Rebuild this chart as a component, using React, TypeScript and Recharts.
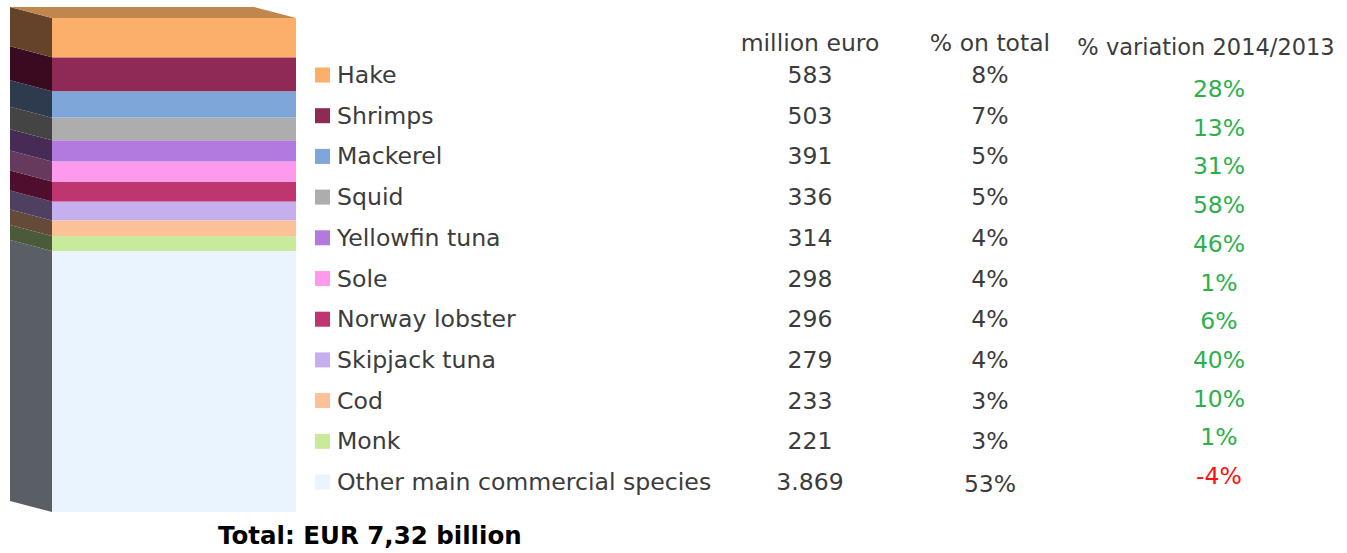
import { BarChart, Bar, XAxis, YAxis, Legend } from "recharts";

// top to bottom as in the picture
const species = [
  "Hake",
  "Shrimps",
  "Mackerel",
  "Squid",
  "Yellowfin tuna",
  "Sole",
  "Norway lobster",
  "Skipjack tuna",
  "Cod",
  "Monk",
  "Other main commercial species",
];
const millionEuro = [583, 503, 391, 336, 314, 298, 296, 279, 233, 221, 3869];
const valueLabels = ["583", "503", "391", "336", "314", "298", "296", "279", "233", "221", "3.869"];
const shareLabels = ["8%", "7%", "5%", "5%", "4%", "4%", "4%", "4%", "3%", "3%", "53%"];
const variation = [28, 13, 31, 58, 46, 1, 6, 40, 10, 1, -4];

const frontColors = [
  "#fcaf6a", "#8e2a55", "#7fa6d8", "#adadad", "#b27ade", "#ff99ee",
  "#be356f", "#c5afee", "#fdc197", "#c8ea9b", "#eaf4fe",
];
const sideColors = [
  "#65432a", "#3a0a20", "#2e3b4f", "#444444", "#472a55", "#653a5c",
  "#4f0e2d", "#4d4060", "#654a3a", "#4b5a38", "#5a5f66",
];
const topColor = "#c0864e";

const W = 1347;
const H = 553;
const DX = 42;
const DY = 11;
const TEXT = "#3c3c3c";
const FONT = "'DejaVu Sans', Verdana, sans-serif";

const row: Record<string, string | number> = { name: "2014" };
species.forEach((s, i) => {
  row[s] = millionEuro[i];
});
const data = [row];

function Block(props: any) {
  const { x, y, width, height, fill, side, top } = props;
  return (
    <g>
      <polygon
        points={`${x - DX},${y - DY} ${x},${y} ${x},${y + height} ${x - DX},${y + height - DY}`}
        fill={side}
      />
      {top && (
        <polygon
          points={`${x - DX},${y - DY} ${x + width - DX},${y - DY} ${x + width},${y} ${x},${y}`}
          fill={top}
        />
      )}
      <rect x={x} y={y} width={width} height={height} fill={fill} />
    </g>
  );
}

function Table() {
  const rowY = (i: number) => 75 + i * 40.7;
  const varY = (i: number) => 89 + i * 38.7;
  return (
    <svg width={W} height={H} style={{ fontFamily: FONT }}>
      <text x={810} y={43} fontSize={23.5} fill={TEXT} textAnchor="middle" dominantBaseline="central">
        million euro
      </text>
      <text x={990} y={43} fontSize={23.5} fill={TEXT} textAnchor="middle" dominantBaseline="central">
        % on total
      </text>
      <text x={1206} y={47} fontSize={22.5} fill={TEXT} textAnchor="middle" dominantBaseline="central">
        % variation 2014/2013
      </text>
      {species.map((s, i) => (
        <g key={s}>
          <rect x={315} y={rowY(i) - 7.5} width={15} height={15} fill={frontColors[i]} />
          <text x={337} y={rowY(i)} fontSize={23.6} fill={TEXT} dominantBaseline="central">
            {s}
          </text>
          <text x={810} y={rowY(i)} fontSize={23.5} fill={TEXT} textAnchor="middle" dominantBaseline="central">
            {valueLabels[i]}
          </text>
          <text x={990} y={rowY(i) + (i === 10 ? 2 : 0)} fontSize={23.5} fill={TEXT} textAnchor="middle" dominantBaseline="central">
            {shareLabels[i]}
          </text>
          <text
            x={1219}
            y={varY(i)}
            fontSize={23.5}
            fill={variation[i] < 0 ? "#ff1010" : "#2db04c"}
            textAnchor="middle"
            dominantBaseline="central"
          >
            {`${variation[i]}%`}
          </text>
        </g>
      ))}
      <text x={218} y={535} fontSize={24.5} fontWeight="bold" fill="#000" dominantBaseline="central">
        Total: EUR 7,32 billion
      </text>
    </svg>
  );
}

export default function App() {
  // recharts stacks the first series at the bottom
  const order = species.map((_, i) => i).reverse();
  return (
    <div style={{ position: "absolute", left: 0, top: 0 }}>
      <BarChart
        width={W}
        height={H}
        data={data}
        margin={{ top: 18, right: W - 296, bottom: H - 512, left: 52 }}
        barCategoryGap={0}
      >
        <XAxis dataKey="name" hide />
        <YAxis hide domain={[0, "dataMax"]} />
        <Legend
          layout="horizontal"
          verticalAlign="middle"
          align="center"
          wrapperStyle={{ left: 0, top: 0, width: W, height: H, pointerEvents: "none" }}
          content={() => <Table />}
        />
        {order.map((i) => (
          <Bar
            key={species[i]}
            dataKey={species[i]}
            stackId="total"
            fill={frontColors[i]}
            isAnimationActive={false}
            shape={(p: any) => (
              <Block {...p} side={sideColors[i]} top={i === 0 ? topColor : undefined} />
            )}
          />
        ))}
      </BarChart>
    </div>
  );
}
